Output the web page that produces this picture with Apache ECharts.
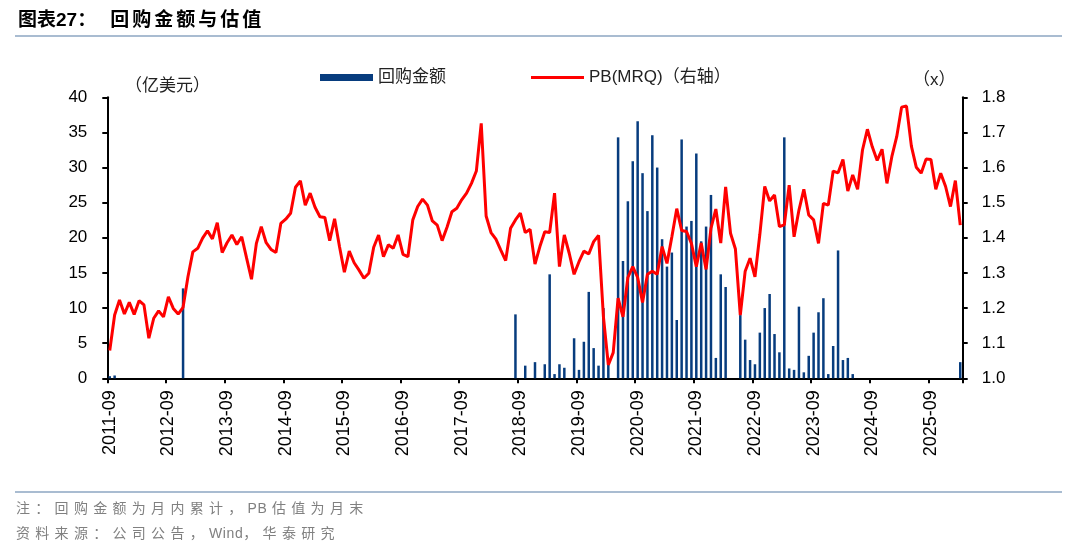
<!DOCTYPE html>
<html lang="zh">

<head>
    <meta charset="UTF-8">
    <title>回购金额与估值</title>
    <script src="https://cdn.jsdelivr.net/npm/echarts@6/dist/echarts.min.js"></script>
    <style>
        body { margin: 0; background: #fff; }
        #page { position: relative; width: 1080px; height: 549px; overflow: hidden;
                font-family: "Liberation Sans", "Noto Sans CJK SC", sans-serif; }
        #chart { position: absolute; left: 0; top: 0; width: 1080px; height: 549px; }
        .title { position: absolute; left: 18px; top: 9px; font-size: 19px; line-height: 22px;
                 font-weight: bold; color: #000; white-space: nowrap; }
        .rule { position: absolute; left: 15px; width: 1047px; height: 2px; background: #a9bcd1; }
        .note { position: absolute; left: 16px; font-size: 14px; line-height: 18px; color: #808080;
                letter-spacing: 5.3px; white-space: nowrap; }
        .note .lat { letter-spacing: 0.6px; }
    </style>
</head>

<body>
    <div id="page">
        <div id="chart"></div>
        <div class="title">图表27：<span style="margin-left:14px;letter-spacing:3px">回购金额与估值</span></div>
        <div class="rule" style="top:35px"></div>
        <div class="rule" style="top:491px"></div>
        <div class="note" style="top:499px">注：回购金额为月内累计，<span class="lat">PB </span>估值为月末</div>
        <div class="note" style="top:524px">资料来源：公司公告，<span class="lat">Wind</span>，华泰研究</div>
    </div>
    <script type="text/javascript">
        // Months from 2011-09 to 2026-03
        const startYear = 2011, startMonth = 9, monthCount = 175;
        const months = [];
        for (let i = 0; i < monthCount; i++) {
            const m = startMonth - 1 + i;
            const y = startYear + Math.floor(m / 12);
            months.push(y + '-' + String(m % 12 + 1).padStart(2, '0'));
        }

        // Monthly buyback amount (USD 100m), one row per 12 months starting 2011-09
        const buyback = [
            0.3, 0.4, 0, 0, 0, 0, 0, 0, 0, 0, 0, 0,
            0, 0, 0, 12.8, 0, 0, 0, 0, 0, 0, 0, 0,
            0, 0, 0, 0, 0, 0, 0, 0, 0, 0, 0, 0,
            0, 0, 0, 0, 0, 0, 0, 0, 0, 0, 0, 0,
            0, 0, 0, 0, 0, 0, 0, 0, 0, 0, 0, 0,
            0, 0, 0, 0, 0, 0, 0, 0, 0, 0, 0, 0,
            0, 0, 0, 0, 0, 0, 0, 0, 0, 0, 0, 9.1,
            0, 1.8, 0, 2.3, 0, 2.0, 14.8, 0.6, 2.0, 1.5, 0, 5.7,
            1.2, 5.2, 12.3, 4.3, 1.8, 10.0, 1.9, 0, 34.3, 16.7, 25.2, 30.9,
            36.6, 29.2, 23.8, 34.6, 30.0, 19.8, 15.9, 17.9, 8.3, 34.0, 21.6, 22.4,
            32.0, 19.5, 21.6, 26.1, 2.9, 14.8, 13.0, 0, 0, 9.0, 5.5, 2.6,
            2.0, 6.5, 10.0, 12.0, 6.3, 3.7, 34.3, 1.4, 1.2, 10.2, 0.85, 3.2,
            6.5, 9.4, 11.4, 0.6, 4.6, 18.2, 2.6, 2.9, 0.6, 0, 0, 0,
            0, 0, 0, 0, 0, 0, 0, 0, 0, 0, 0, 0,
            0, 0, 0, 0, 0, 0, 2.3
        ];

        // Month-end PB (MRQ), same layout
        const pbMrq = [
            1.079, 1.180, 1.223, 1.183, 1.216, 1.182, 1.221, 1.209, 1.114, 1.171, 1.192, 1.175,
            1.232, 1.199, 1.183, 1.202, 1.289, 1.360, 1.370, 1.399, 1.420, 1.397, 1.443, 1.358,
            1.386, 1.408, 1.381, 1.403, 1.342, 1.282, 1.384, 1.432, 1.386, 1.367, 1.358, 1.441,
            1.453, 1.470, 1.544, 1.562, 1.493, 1.527, 1.487, 1.460, 1.458, 1.392, 1.454, 1.375,
            1.302, 1.362, 1.329, 1.308, 1.285, 1.299, 1.373, 1.408, 1.346, 1.380, 1.370, 1.408,
            1.353, 1.346, 1.451, 1.489, 1.510, 1.493, 1.448, 1.436, 1.392, 1.430, 1.474, 1.484,
            1.508, 1.527, 1.555, 1.590, 1.726, 1.462, 1.415, 1.396, 1.365, 1.335, 1.427, 1.451,
            1.470, 1.415, 1.424, 1.325, 1.375, 1.417, 1.415, 1.527, 1.318, 1.408, 1.356, 1.296,
            1.332, 1.362, 1.354, 1.389, 1.407, 1.175, 1.038, 1.073, 1.228, 1.175, 1.287, 1.318,
            1.287, 1.216, 1.296, 1.305, 1.296, 1.375, 1.327, 1.403, 1.483, 1.421, 1.418, 1.384,
            1.318, 1.385, 1.310, 1.427, 1.482, 1.385, 1.545, 1.413, 1.368, 1.180, 1.305, 1.342,
            1.289, 1.410, 1.546, 1.505, 1.522, 1.432, 1.437, 1.550, 1.403, 1.479, 1.538, 1.465,
            1.451, 1.384, 1.498, 1.493, 1.590, 1.585, 1.623, 1.533, 1.579, 1.538, 1.650, 1.709,
            1.659, 1.620, 1.652, 1.555, 1.631, 1.688, 1.772, 1.775, 1.661, 1.601, 1.584, 1.624,
            1.623, 1.538, 1.584, 1.546, 1.489, 1.563, 1.436
        ];

        const fontFamily = '"Liberation Sans", "Noto Sans CJK SC", sans-serif';
        const axisLine = { show: true, lineStyle: { color: '#000', width: 2 } };
        const axisTick = { show: true, inside: false, length: 5, lineStyle: { color: '#000', width: 2 } };
        const legendText = { fontSize: 17, color: '#222', fontFamily: fontFamily };

        const chart = echarts.init(document.getElementById('chart'));
        chart.setOption({
            animation: false,
            backgroundColor: 'transparent',
            textStyle: { fontFamily: fontFamily },
            grid: { left: 107.3, right: 117.3, top: 97.3, bottom: 170.7, containLabel: false },
            legend: [
                {
                    left: 320, top: 69, padding: 0,
                    itemWidth: 53, itemHeight: 7, icon: 'rect',
                    textStyle: legendText,
                    data: ['回购金额']
                },
                {
                    left: 531, top: 69, padding: 0,
                    itemWidth: 53, itemHeight: 3, icon: 'rect',
                    textStyle: legendText,
                    data: ['PB(MRQ)（右轴）']
                }
            ],
            graphic: [
                { type: 'text', left: 125, top: 78,
                  style: { text: '（亿美元）', fontSize: 17, fill: '#222', fontFamily: fontFamily } },
                { type: 'text', left: 913, top: 72,
                  style: { text: '（x）', fontSize: 17, fill: '#222', fontFamily: fontFamily } }
            ],
            xAxis: {
                type: 'category',
                data: months,
                boundaryGap: true,
                axisLine: axisLine,
                axisTick: Object.assign({ interval: 11 }, axisTick),
                axisLabel: { interval: 11, rotate: 90, fontSize: 18, color: '#000', margin: 12 },
                splitLine: { show: false }
            },
            yAxis: [
                {
                    type: 'value', min: 0, max: 40, interval: 5,
                    axisLine: axisLine, axisTick: axisTick,
                    axisLabel: { fontSize: 17, color: '#000', margin: 20 },
                    splitLine: { show: false }
                },
                {
                    type: 'value', min: 1.0, max: 1.8, interval: 0.1, position: 'right',
                    axisLine: axisLine, axisTick: axisTick,
                    axisLabel: { fontSize: 17, color: '#000', margin: 19, formatter: v => v.toFixed(1) },
                    splitLine: { show: false }
                }
            ],
            series: [
                {
                    name: '回购金额',
                    type: 'bar',
                    data: buyback,
                    barWidth: 2.5,
                    itemStyle: { color: '#073c7e' }
                },
                {
                    name: 'PB(MRQ)（右轴）',
                    type: 'line',
                    yAxisIndex: 1,
                    data: pbMrq,
                    symbol: 'none',
                    lineStyle: { color: '#ff0000', width: 3 },
                    itemStyle: { color: '#ff0000' }
                }
            ]
        });
    </script>
</body>

</html>
